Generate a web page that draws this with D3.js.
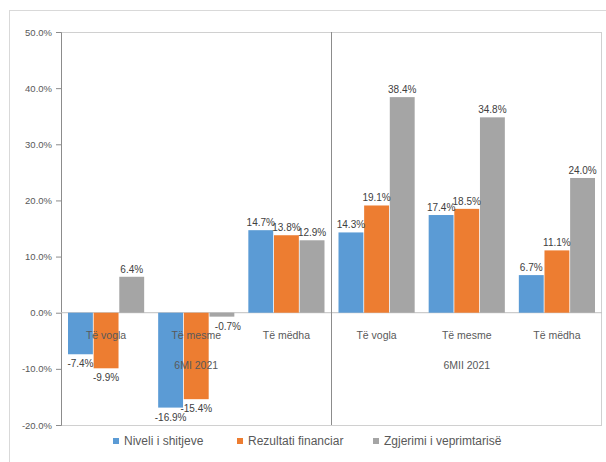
<!DOCTYPE html>
<html>
<head>
<meta charset="utf-8">
<script src="https://cdn.jsdelivr.net/npm/d3@7"></script>
<style>
  body { margin: 0; background: #fff; }
  svg text { font-family: "Liberation Sans", Arial, sans-serif; }
</style>
</head>
<body>
<div id="chart"></div>
<script>
// chart data
const categories = ["Të vogla", "Të mesme", "Të mëdha", "Të vogla ", "Të mesme ", "Të mëdha "];
const groups = ["6MI 2021", "6MII 2021"];
const seriesNames = ["Niveli i shitjeve", "Rezultati financiar", "Zgjerimi i veprimtarisë"];
const niveli = [-7.4, -16.9, 14.7, 14.3, 17.4, 6.7];
const rezultati = [-9.9, -15.4, 13.8, 19.1, 18.5, 11.1];
const zgjerimi = [6.4, -0.7, 12.9, 38.4, 34.8, 24.0];
const yTicks = [-20, -10, 0, 10, 20, 30, 40, 50];
const colors = ["#5B9BD5", "#ED7D31", "#A5A5A5"];

const width = 606, height = 462;
const margin = {top: 32, right: 4, bottom: 37, left: 61};
const plotW = width - margin.left - margin.right;
const plotH = height - margin.top - margin.bottom;

const svg = d3.select("#chart").append("svg")
    .attr("width", width)
    .attr("height", height);

// outer chart frame
svg.append("rect")
    .attr("x", 9.5).attr("y", 10.5)
    .attr("width", width + 20).attr("height", height + 20)
    .attr("fill", "none")
    .attr("stroke", "#D9D9D9");

const g = svg.append("g")
    .attr("transform", `translate(${margin.left},${margin.top})`);

const x = d3.scaleBand()
    .domain(categories)
    .range([0, plotW])
    .paddingInner(0)
    .paddingOuter(0);

const x1 = d3.scaleBand()
    .domain(seriesNames)
    .range([7, x.bandwidth() - 7])
    .paddingInner(0.03);

const y = d3.scaleLinear()
    .domain([-20, 50])
    .range([plotH, 0]);

// plot area border
g.append("rect")
    .attr("x", 0.5).attr("y", 0.5)
    .attr("width", plotW - 1).attr("height", plotH)
    .attr("fill", "none")
    .attr("stroke", "#D0D0D0");

// y axis
const yAxis = g.append("g")
    .call(d3.axisLeft(y).tickValues(yTicks).tickSize(5).tickFormat(d => d.toFixed(1) + "%"));
yAxis.select(".domain").attr("stroke", "#8C8C8C");
yAxis.selectAll(".tick line").attr("stroke", "#8C8C8C");
yAxis.selectAll(".tick text")
    .attr("x", -9)
    .attr("fill", "#595959")
    .style("font-size", "9.5px");

// zero line
g.append("line")
    .attr("x1", 0).attr("x2", plotW)
    .attr("y1", y(0)).attr("y2", y(0))
    .attr("stroke", "#BFBFBF");

// separator between the two half-years
g.append("line")
    .attr("x1", x(categories[3])).attr("x2", x(categories[3]))
    .attr("y1", 0).attr("y2", plotH)
    .attr("stroke", "#8C8C8C");

const seriesData = [niveli, rezultati, zgjerimi];

const rows = [];
seriesData.forEach((vals, si) => {
    vals.forEach((v, ci) => rows.push({cat: categories[ci], series: seriesNames[si], si: si, value: v}));
});

// bars
g.selectAll(".bar")
    .data(rows)
    .join("rect")
    .attr("class", "bar")
    .attr("x", d => x(d.cat) + x1(d.series))
    .attr("width", x1.bandwidth())
    .attr("y", d => y(Math.max(0, d.value)))
    .attr("height", d => Math.abs(y(d.value) - y(0)))
    .attr("fill", d => colors[d.si]);

// value labels
g.selectAll(".val")
    .data(rows)
    .join("text")
    .attr("class", "val")
    .attr("x", d => x(d.cat) + x1(d.series) + x1.bandwidth() / 2 + (d.value < 0 && d.value > -2 ? 6 : 0))
    .attr("y", d => d.value >= 0 ? y(d.value) - 4 : y(d.value) + 13)
    .attr("text-anchor", "middle")
    .attr("fill", "#404040")
    .style("font-size", "10px")
    .text(d => d.value.toFixed(1) + "%");

// category labels
g.selectAll(".cat")
    .data(categories)
    .join("text")
    .attr("class", "cat")
    .attr("x", d => x(d) + x.bandwidth() / 2)
    .attr("y", y(0) + 26)
    .attr("text-anchor", "middle")
    .attr("fill", "#595959")
    .style("font-size", "10.5px")
    .text(d => d.trim());

// group labels
g.selectAll(".grp")
    .data(groups)
    .join("text")
    .attr("class", "grp")
    .attr("x", (d, i) => x(categories[i * 3 + 1]) + x.bandwidth() / 2)
    .attr("y", y(0) + 56)
    .attr("text-anchor", "middle")
    .attr("fill", "#595959")
    .style("font-size", "10.5px")
    .text(d => d);

// legend
const legendX = [113, 237, 373];
const legend = svg.selectAll(".legend")
    .data(seriesNames)
    .join("g")
    .attr("class", "legend")
    .attr("transform", (d, i) => `translate(${legendX[i]}, 441)`);

legend.append("rect")
    .attr("x", 0).attr("y", -3)
    .attr("width", 6).attr("height", 6)
    .attr("fill", (d, i) => colors[i]);

legend.append("text")
    .attr("x", 11)
    .attr("y", 4)
    .attr("fill", "#595959")
    .style("font-size", "12px")
    .text(d => d);
</script>
</body>
</html>
